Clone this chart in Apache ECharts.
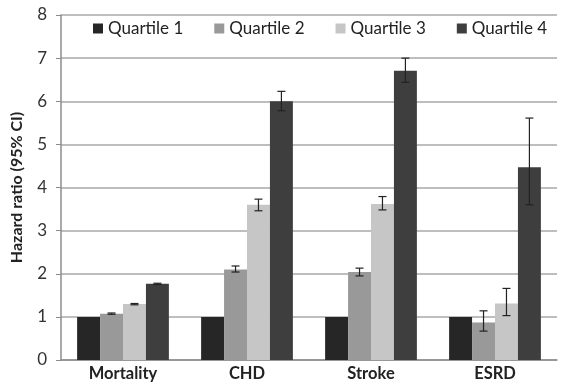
<!DOCTYPE html>
<html>
<head>
<meta charset="utf-8">
<script src="https://cdn.jsdelivr.net/npm/echarts@6/dist/echarts.min.js"></script>
<style>
  html, body { margin: 0; padding: 0; background: #fff; }
  #chart { width: 562px; height: 384px; }
</style>
</head>
<body>
<div id="chart"></div>
<script>
// data
var categories = ['Mortality', 'CHD', 'Stroke', 'ESRD'];
var seriesNames = ['Quartile 1', 'Quartile 2', 'Quartile 3', 'Quartile 4'];
var q1 = [1, 1, 1, 1];
var q2 = [1.07, 2.10, 2.04, 0.87];
var q3 = [1.30, 3.60, 3.62, 1.31];
var q4 = [1.77, 6.00, 6.71, 4.47];
// 95% CI, [low, high]; null where no bar drawn
var q1Ci = [null, null, null, null];
var q2Ci = [[1.06, 1.09], [2.04, 2.18], [1.95, 2.13], [0.67, 1.14]];
var q3Ci = [[1.28, 1.31], [3.46, 3.73], [3.48, 3.79], [1.03, 1.66]];
var q4Ci = [[1.75, 1.78], [5.78, 6.23], [6.44, 7.00], [3.60, 5.61]];
var yTicks = [0, 1, 2, 3, 4, 5, 6, 7, 8];

var colors = ['#262626', '#999999', '#c6c6c6', '#3e3e3e'];
var values = [q1, q2, q3, q4];
var cis = [q1Ci, q2Ci, q3Ci, q4Ci];
var catGap = 0.26;

var myChart = echarts.init(document.getElementById('chart'));

function errorSeries(idx) {
  var data = [];
  cis[idx].forEach(function (c, i) {
    if (c) data.push([i, c[0], c[1]]);
  });
  return {
    type: 'custom',
    name: seriesNames[idx],
    data: data,
    z: 10,
    silent: true,
    renderItem: function (params, api) {
      var band = api.size([1, 0])[0];
      var bw = band * (1 - catGap) / 4;
      var x = api.coord([api.value(0), 0])[0] - band * (1 - catGap) / 2 + (idx + 0.5) * bw;
      var lo = api.coord([api.value(0), api.value(1)])[1];
      var hi = api.coord([api.value(0), api.value(2)])[1];
      var cap = 4;
      var style = { stroke: '#222', lineWidth: 1.2 };
      return {
        type: 'group',
        children: [
          { type: 'line', shape: { x1: x, y1: lo, x2: x, y2: hi }, style: style },
          { type: 'line', shape: { x1: x - cap, y1: lo, x2: x + cap, y2: lo }, style: style },
          { type: 'line', shape: { x1: x - cap, y1: hi, x2: x + cap, y2: hi }, style: style }
        ]
      };
    }
  };
}

var series = [];
values.forEach(function (v, i) {
  series.push({
    type: 'bar',
    name: seriesNames[i],
    data: v,
    barGap: 0,
    barCategoryGap: (catGap * 100) + '%',
    itemStyle: { color: colors[i] }
  });
});
values.forEach(function (v, i) {
  series.push(errorSeries(i));
});

var option = {
  animation: false,
  color: colors,
  grid: { left: 61, right: 5, top: 15, bottom: 24 },
  legend: {
    data: seriesNames,
    left: 89,
    top: 18,
    itemWidth: 10,
    itemHeight: 10,
    itemGap: 31,
    icon: 'rect',
    backgroundColor: '#fff',
    padding: [2, 4],
    textStyle: { fontFamily: 'Lato', fontSize: 17, color: '#222' }
  },
  xAxis: {
    type: 'category',
    data: categories,
    axisLine: { lineStyle: { color: '#8c8c8c', width: 1.5 } },
    axisTick: { show: false },
    axisLabel: { fontFamily: 'Lato', fontWeight: 'bold', fontSize: 16.5, color: '#222', margin: 5 }
  },
  yAxis: {
    type: 'value',
    min: yTicks[0],
    max: yTicks[yTicks.length - 1],
    interval: 1,
    name: 'Hazard ratio (95% CI)',
    nameLocation: 'middle',
    nameGap: 36,
    nameTextStyle: { fontFamily: 'Lato', fontWeight: 'bold', fontSize: 16, color: '#222' },
    axisLine: { show: true, lineStyle: { color: '#8c8c8c', width: 1.5 } },
    axisTick: { show: true, length: 5, lineStyle: { color: '#8c8c8c' } },
    axisLabel: { fontFamily: 'Lato', fontSize: 17, color: '#333', margin: 14 },
    splitLine: { lineStyle: { color: '#a8a8a8', width: 1.5 } }
  },
  series: series
};
myChart.setOption(option);
</script>
</body>
</html>
